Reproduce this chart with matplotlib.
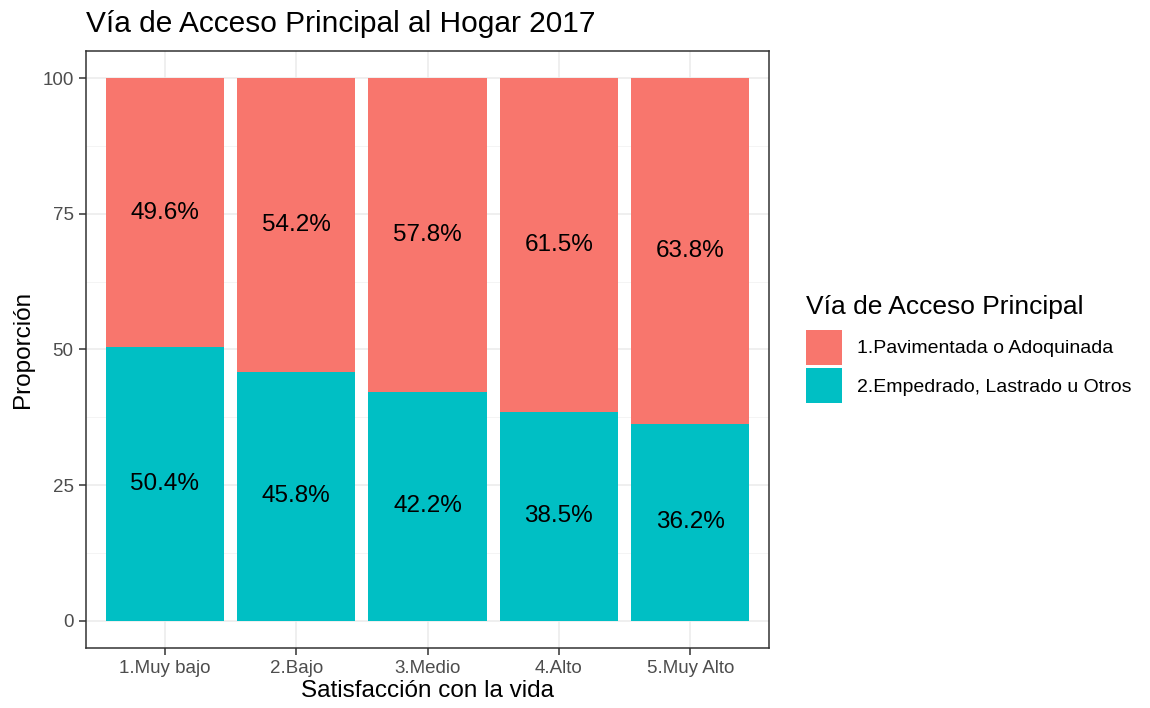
import matplotlib
matplotlib.use("Agg")
import matplotlib.pyplot as plt
from matplotlib.patches import Patch
from matplotlib.ticker import MultipleLocator
import numpy as np

plt.rcParams["font.family"] = ["Liberation Sans", "DejaVu Sans"]

# --------- Data ---------
categories = ["1.Muy bajo", "2.Bajo", "3.Medio", "4.Alto", "5.Muy Alto"]
series_names = ["1.Pavimentada o Adoquinada", "2.Empedrado, Lastrado u Otros"]
pavimentada = [49.6, 54.2, 57.8, 61.5, 63.8]
empedrado = [50.4, 45.8, 42.2, 38.5, 36.2]
colors = ["#F8766D", "#00BFC4"]

# --------- Plot ---------
fig = plt.figure(figsize=(11.5, 7.08), dpi=100)
ax = fig.add_axes([0.0748, 0.085, 0.594, 0.843])

x = np.arange(1, len(categories) + 1)
emp = np.array(empedrado)
pav = np.array(pavimentada)
ax.bar(x, emp, width=0.9, color=colors[1], zorder=2)
ax.bar(x, pav, width=0.9, bottom=emp, color=colors[0], zorder=2)

for xi, e, p in zip(x, emp, pav):
    ax.text(xi, e / 2, f"{e:.1f}%", ha="center", va="center", fontsize=17.5, color="black", zorder=3)
    ax.text(xi, e + p / 2, f"{p:.1f}%", ha="center", va="center", fontsize=17.5, color="black", zorder=3)

ax.set_xlim(0.4, 5.6)
ax.set_ylim(-5, 105)
ax.set_xticks(x)
ax.set_xticklabels(categories)
ax.yaxis.set_major_locator(MultipleLocator(25))
ax.yaxis.set_minor_locator(MultipleLocator(12.5))
ax.grid(True, which="major", color="#EBEBEB", linewidth=1.1, zorder=0)
ax.grid(True, which="minor", axis="y", color="#F2F2F2", linewidth=0.6, zorder=0)
ax.set_axisbelow(True)
ax.tick_params(axis="both", which="major", labelsize=13.5, labelcolor="#4D4D4D",
               color="#333333", length=5, width=1.1, pad=4)
ax.tick_params(axis="y", which="minor", length=0)
for s in ax.spines.values():
    s.set_color("#333333")
    s.set_linewidth(1.1)

ax.set_xlabel("Satisfacción con la vida", fontsize=17.5, labelpad=2)
ax.set_ylabel("Proporción", fontsize=17.5, labelpad=6)
fig.text(0.0748, 0.966, "Vía de Acceso Principal al Hogar 2017", fontsize=21.5,
         ha="left", va="center")

handles = [Patch(facecolor=c, edgecolor="none") for c in colors]
leg = fig.legend(handles, series_names, title="Vía de Acceso Principal",
                 loc="upper left", bbox_to_anchor=(0.694, 0.595), frameon=False,
                 fontsize=14, title_fontsize=19, handlelength=1.85, handleheight=2.45,
                 labelspacing=0.12, handletextpad=0.8, borderaxespad=0)
leg._legend_box.align = "left"
leg._legend_box.sep = 8

fig.savefig("out.png", dpi=100)
